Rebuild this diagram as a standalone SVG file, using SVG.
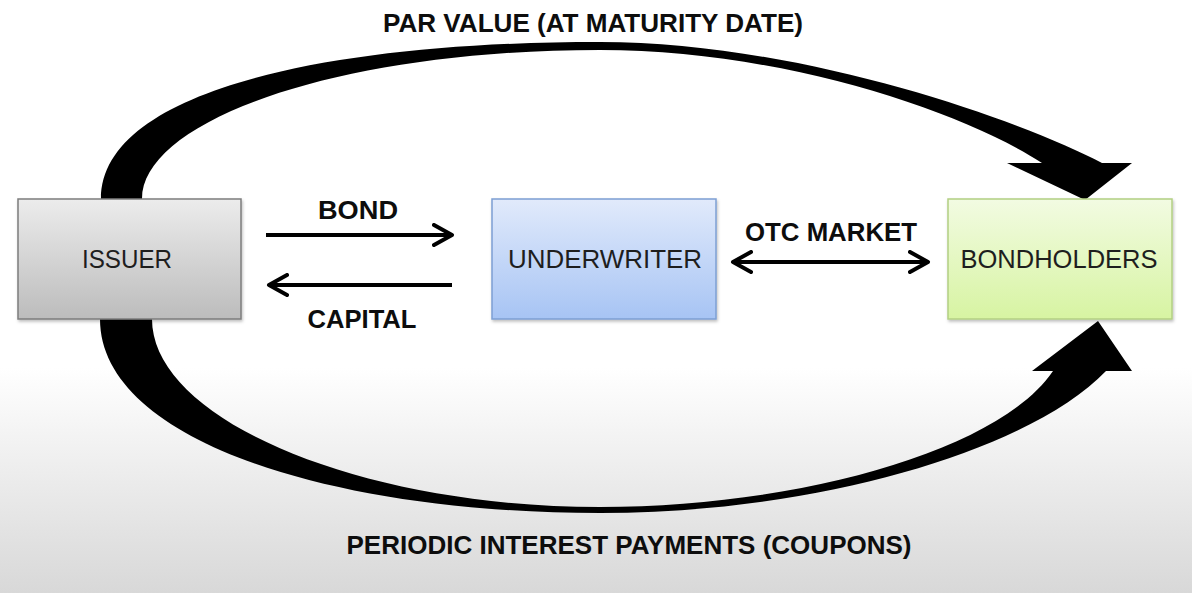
<svg xmlns="http://www.w3.org/2000/svg" width="1192" height="593" viewBox="0 0 1192 593">
  <defs>
    <linearGradient id="bg" x1="0" y1="0" x2="0" y2="1">
      <stop offset="0" stop-color="#ffffff"/>
      <stop offset="0.62" stop-color="#ffffff"/>
      <stop offset="1" stop-color="#d8d8d8"/>
    </linearGradient>
    <linearGradient id="gIssuer" x1="0" y1="0" x2="0" y2="1">
      <stop offset="0" stop-color="#ececec"/>
      <stop offset="1" stop-color="#bcbcbc"/>
    </linearGradient>
    <linearGradient id="gUnder" x1="0" y1="0" x2="0" y2="1">
      <stop offset="0" stop-color="#e1eafb"/>
      <stop offset="1" stop-color="#a7c4f4"/>
    </linearGradient>
    <linearGradient id="gBond" x1="0" y1="0" x2="0" y2="1">
      <stop offset="0" stop-color="#f2fbe2"/>
      <stop offset="1" stop-color="#d7f4a2"/>
    </linearGradient>
    <filter id="sh" x="-5%" y="-5%" width="115%" height="120%">
      <feDropShadow dx="1" dy="2" stdDeviation="1.5" flood-color="#000" flood-opacity="0.25"/>
    </filter>
    <marker id="chev" viewBox="0 0 24 24" markerWidth="24" markerHeight="24" refX="20" refY="12" orient="auto-start-reverse" markerUnits="userSpaceOnUse">
      <path d="M2,2 L20,12 L2,22" fill="none" stroke="#000" stroke-width="4" stroke-linecap="round" stroke-linejoin="round"/>
    </marker>
  </defs>
  <style>
    .box-text { font-family: "Liberation Sans", Arial, sans-serif; font-size: 25px; fill: #1e1e1e; }
    .lbl { font-family: "Liberation Sans", Arial, sans-serif; font-size: 25px; font-weight: bold; fill: #0d0d0d; }
    .line { stroke: #000; stroke-width: 4; fill: none; }
    .big { fill: #000; stroke: none; }
  </style>

  <rect x="0" y="0" width="1192" height="593" fill="url(#bg)"/>

  <g id="connectors">
    <path class="big" d="M101,199 C101,90 330,42 600,42 C800,42 1020,120 1102,163 L1132,163 L1085,200 L1007,163 L1042,163 C960,110 780,50 600,50 C340,50 142,120 142,199 Z"/>
    <path class="big" d="M100,319 C100,440 330,513 600,513 C820,513 1030,450 1106,371 L1132,371 L1098,321 L1032,371 L1053,371 C1000,450 800,507 600,507 C360,507 152,420 152,319 Z"/>
    <line class="line" x1="266" y1="235" x2="452" y2="235" marker-end="url(#chev)"/>
    <line class="line" x1="452" y1="285" x2="269" y2="285" marker-end="url(#chev)"/>
    <line class="line" x1="733" y1="262" x2="928" y2="262" marker-start="url(#chev)" marker-end="url(#chev)"/>
    <text class="lbl" x="593" y="32" text-anchor="middle" textLength="420" lengthAdjust="spacingAndGlyphs">PAR VALUE (AT MATURITY DATE)</text>
    <text class="lbl" x="358" y="219" text-anchor="middle" textLength="80" lengthAdjust="spacingAndGlyphs">BOND</text>
    <text class="lbl" x="362" y="328" text-anchor="middle" textLength="109" lengthAdjust="spacingAndGlyphs">CAPITAL</text>
    <text class="lbl" x="831" y="241" text-anchor="middle" textLength="172" lengthAdjust="spacingAndGlyphs">OTC MARKET</text>
    <text class="lbl" x="629" y="554" text-anchor="middle" textLength="565" lengthAdjust="spacingAndGlyphs">PERIODIC INTEREST PAYMENTS (COUPONS)</text>
  </g>

  <g id="issuer">
    <rect x="18" y="199" width="223" height="120" fill="url(#gIssuer)" stroke="#7d7d7d" stroke-width="1.5" filter="url(#sh)"/>
    <text class="box-text" x="127" y="268" text-anchor="middle" textLength="90" lengthAdjust="spacingAndGlyphs">ISSUER</text>
  </g>
  <g id="underwriter">
    <rect x="492" y="199" width="224" height="120" fill="url(#gUnder)" stroke="#7d9fd3" stroke-width="1.5" filter="url(#sh)"/>
    <text class="box-text" x="605" y="268" text-anchor="middle" textLength="194" lengthAdjust="spacingAndGlyphs">UNDERWRITER</text>
  </g>
  <g id="bondholders">
    <rect x="948" y="199" width="224" height="120" fill="url(#gBond)" stroke="#b3cf83" stroke-width="1.5" filter="url(#sh)"/>
    <text class="box-text" x="1059" y="268" text-anchor="middle" textLength="197" lengthAdjust="spacingAndGlyphs">BONDHOLDERS</text>
  </g>
</svg>
